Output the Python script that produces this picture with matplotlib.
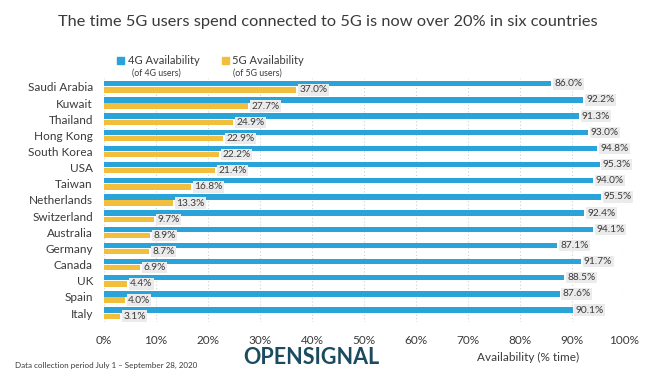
import numpy as np
import matplotlib.pyplot as plt

plt.rcParams['font.family'] = ['Lato', 'DejaVu Sans']

countries = ['Saudi Arabia', 'Kuwait', 'Thailand', 'Hong Kong', 'South Korea', 'USA',
             'Taiwan', 'Netherlands', 'Switzerland', 'Australia', 'Germany', 'Canada',
             'UK', 'Spain', 'Italy']
avail_4g = [86.0, 92.2, 91.3, 93.0, 94.8, 95.3, 94.0, 95.5, 92.4, 94.1, 87.1, 91.7, 88.5, 87.6, 90.1]
avail_5g = [37.0, 27.7, 24.9, 22.9, 22.2, 21.4, 16.8, 13.3, 9.7, 8.9, 8.7, 6.9, 4.4, 4.0, 3.1]
xticks = [0, 10, 20, 30, 40, 50, 60, 70, 80, 90, 100]

blue = '#2aa3d8'
yellow = '#f1bf3c'
txt = '#3a3a3a'

fig = plt.figure(figsize=(6.56, 3.82), dpi=100)
ax = fig.add_axes([104 / 656, 1 - 322 / 382, 520 / 656, 244 / 382])

y = np.arange(len(countries))
h = 0.33
off = 0.19
ax.barh(y - off, avail_4g, height=h, color=blue)
ax.barh(y + off, avail_5g, height=h, color=yellow)

box = dict(boxstyle='square,pad=0.12', fc='#ebebeb', ec='none')
for i in range(len(countries)):
    ax.text(avail_4g[i] + 0.6, y[i] - off, f'{avail_4g[i]:.1f}%', va='center', ha='left',
            fontsize=7.3, color=txt, bbox=box)
    ax.text(avail_5g[i] + 0.6, y[i] + off, f'{avail_5g[i]:.1f}%', va='center', ha='left',
            fontsize=7.3, color=txt, bbox=box)

ax.set_xlim(0, 100)
ax.set_ylim(len(countries) - 0.45, -0.55)
ax.set_xticks(xticks)
ax.set_xticklabels([f'{t}%' for t in xticks], fontsize=8.5, color=txt)
ax.set_yticks(y)
ax.set_yticklabels(countries, fontsize=8.5, color=txt)
ax.tick_params(length=0, pad=8)
ax.tick_params(axis='x', pad=9)
ax.grid(axis='x', color='#d0d0d0', linestyle=(0, (1, 2)), linewidth=0.8)
ax.set_axisbelow(True)
for s in ax.spines.values():
    s.set_visible(False)

# title and legend
fig.text(0.5, 1 - 22 / 382, 'The time 5G users spend connected to 5G is now over 20% in six countries',
         ha='center', va='center', fontsize=11.8, color=txt)
fig.patches.append(plt.Rectangle((117 / 656, 1 - 64 / 382), 7 / 656, 7 / 382,
                                 transform=fig.transFigure, color=blue))
fig.text(128 / 656, 1 - 60 / 382, '4G Availability', fontsize=8, color=txt, va='center')
fig.text(132 / 656, 1 - 73 / 382, '(of 4G users)', fontsize=6.3, color=txt, va='center')
fig.patches.append(plt.Rectangle((222 / 656, 1 - 64 / 382), 7 / 656, 7 / 382,
                                 transform=fig.transFigure, color=yellow))
fig.text(232 / 656, 1 - 60 / 382, '5G Availability', fontsize=8, color=txt, va='center')
fig.text(233 / 656, 1 - 73 / 382, '(of 5G users)', fontsize=6.3, color=txt, va='center')

# footer
fig.text(15 / 656, 1 - 365 / 382, 'Data collection period July 1 \u2013 September 28, 2020',
         fontsize=5.8, color=txt, va='center')
fig.text(311 / 656, 1 - 357 / 382, 'OPENSIGNAL', fontsize=15.5, fontweight='bold',
         color='#1a4b5f', ha='center', va='center')
fig.text(528 / 656, 1 - 357 / 382, 'Availability (% time)', fontsize=8.5, color=txt,
         ha='center', va='center')

fig.savefig('out.png', dpi=100)
